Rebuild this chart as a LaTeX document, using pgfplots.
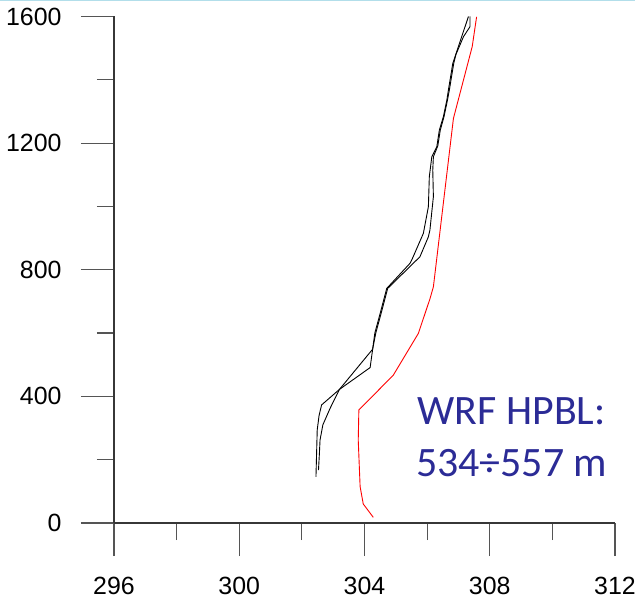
\documentclass[border=0pt]{standalone}
\usepackage{fontspec}
\setmainfont{Liberation Sans}
\newfontfamily\carlito{Carlito}
\usepackage{pgfplots}
\pgfplotsset{compat=1.18}
\definecolor{axgray}{RGB}{55,55,55}
\definecolor{tickgray}{RGB}{85,85,85}
\definecolor{wrfblue}{RGB}{43,43,150}
\definecolor{topblue}{RGB}{178,222,234}
\begin{document}
\begin{tikzpicture}
\useasboundingbox (-114bp,-82bp) rectangle (521bp,523bp);
\begin{axis}[
  at={(0,0)}, anchor=south west,
  scale only axis, width=501bp, height=506.5bp,
  xmin=296, xmax=312, ymin=0, ymax=1600,
  axis x line*=bottom, axis y line*=left,
  axis line style={axgray, line width=1.2bp, -},
  xtick={296,300,304,308,312}, ytick={0,400,800,1200,1600},
  minor xtick={298,302,306,310}, minor ytick={200,600,1000,1400},
  tick align=outside,
  major tick length=33bp, minor tick length=17bp,
  every tick/.style={tickgray, line width=1.2bp},
  tick label style={font=\fontsize{25}{30}\selectfont},
  yticklabel style={xshift=-16bp},
  xticklabel style={yshift=-18bp},
  /pgf/number format/assume math mode=true,
  /pgf/number format/1000 sep={},
  clip=false,
]
\addplot[black, line width=0.9bp] coordinates {
(302.45,146) (302.47,220) (302.49,294) (302.55,340) (302.63,373) (303.20,422)
(304.26,549) (304.33,600) (304.50,662) (304.71,741) (305.45,820) (305.51,831)
(305.88,915) (306.04,999) (306.07,1094) (306.15,1157) (306.31,1189) (306.39,1241)
(306.52,1284) (306.63,1336) (306.68,1368) (306.82,1452) (306.89,1473) (307.32,1600)
};
\addplot[black, line width=0.9bp] coordinates {
(302.53,167) (302.56,220) (302.58,262) (302.67,310) (302.90,362) (303.20,422)
(304.18,491) (304.26,549) (304.36,600) (304.53,662) (304.74,741) (305.77,841)
(306.04,904) (306.09,926) (306.20,1031) (306.18,1115) (306.20,1157) (306.34,1191)
(306.42,1241) (306.54,1284) (306.65,1336) (306.71,1368) (306.85,1452) (306.92,1480)
(307.16,1536) (307.37,1568) (307.37,1600)
};
\addplot[red, line width=0.9bp] coordinates {
(304.28,18) (303.96,60) (303.86,115) (303.80,262) (303.82,357) (304.92,467)
(305.72,599) (306.09,708) (306.20,746) (306.84,1278) (307.44,1505) (307.58,1599)
};
\node[wrfblue, font=\carlito\fontsize{42}{50}\selectfont, anchor=base] at (axis cs:308.70,310) {WRF HPBL:};
\node[wrfblue, font=\carlito\fontsize{42}{50}\selectfont, anchor=base] at (axis cs:308.70,148) {534÷557 m};
\end{axis}
\fill[topblue] (-114bp,521.5bp) rectangle (521bp,523bp);
\end{tikzpicture}
\end{document}
